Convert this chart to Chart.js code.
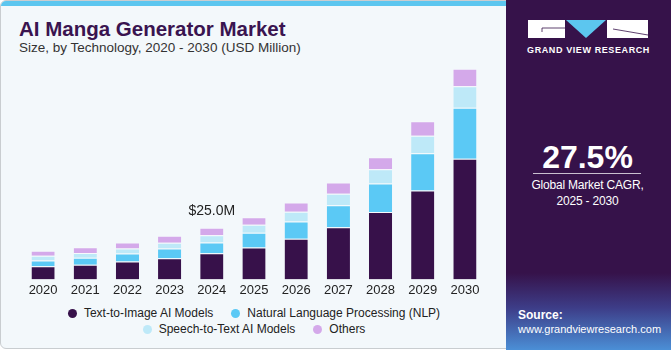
<!DOCTYPE html>
<html>
<head>
<meta charset="utf-8">
<script src="https://cdn.jsdelivr.net/npm/chart.js@4"></script>
<style>
    body { margin: 0; width: 671px; height: 350px; overflow: hidden; background: #ffffff; font-family: "Liberation Sans", Arial, sans-serif; }
    #card { position: absolute; left: 0; top: 0; width: 669px; height: 347px; background: #f3f8fb; border: 1px solid #c9cdd0; border-radius: 6px; overflow: hidden; }
    #topStrip { position: absolute; left: 0; top: 0; width: 506px; height: 5px; background: #5cc6ef; }
    #title { position: absolute; left: 18px; top: 16px; font-size: 20.5px; font-weight: bold; color: #3a1450; }
    #subtitle { position: absolute; left: 18px; top: 39px; font-size: 13.5px; color: #333333; }
    #chartBox { position: absolute; left: 0; top: 56px; width: 505px; height: 244px; }
    .legendRow { position: absolute; left: 0; width: 506px; text-align: center; font-size: 12px; color: #222; white-space: nowrap; }
    .item { display: inline-block; margin: 0 9px; }
    .dot { display: inline-block; width: 9px; height: 9px; border-radius: 50%; margin-right: 7px; vertical-align: -1px; }
    #panel { position: absolute; left: 506px; top: 0; width: 165px; height: 350px;
        background: linear-gradient(to bottom, #36124a 0%, #36124a 78%, #3d3d88 88%, #4b8fd6 100%); }
    #logo { position: absolute; left: 22px; top: 20px; width: 120px; height: 18px; }
    #logoText { position: absolute; left: 0; top: 45px; width: 165px; text-align: center; font-size: 9px; font-weight: bold; color: #ffffff; letter-spacing: 0.6px; }
    #cagr { position: absolute; left: 0; top: 139px; width: 163px; text-align: center; font-size: 32px; font-weight: bold; color: #ffffff; }
    #rule { position: absolute; left: 27px; top: 173px; width: 108px; height: 1px; background: #c9bfd0; }
    #cagrText { position: absolute; left: 0; top: 177px; width: 163px; text-align: center; font-size: 12px; letter-spacing: -0.2px; line-height: 16px; color: #ffffff; }
    #source { position: absolute; left: 12px; top: 308px; font-size: 11px; line-height: 14px; color: #ffffff; }
    #source b { font-size: 12px; }
</style>
</head>
<body>
<div id="card">
    <div id="topStrip"></div>
    <div id="title">AI Manga Generator Market</div>
    <div id="subtitle">Size, by Technology, 2020 - 2030 (USD Million)</div>
    <div id="chartBox"><canvas id="marketChart"></canvas></div>
    <div class="legendRow" id="legendRow1" style="top: 305px;"></div>
    <div class="legendRow" id="legendRow2" style="top: 321px;"></div>
</div>
<div id="panel">
    <svg id="logo" viewBox="0 0 120 18">
        <rect x="0" y="0" width="37" height="18" fill="#ffffff"></rect>
        <polyline points="14,12 14,8 37,8" fill="none" stroke="#36124a" stroke-width="0.8"></polyline>
        <polygon points="38,0 78,0 58,18" fill="#5cc6ef"></polygon>
        <rect x="79" y="0" width="41" height="18" fill="#ffffff"></rect>
        <polyline points="85,9 120,15" fill="none" stroke="#36124a" stroke-width="0.8"></polyline>
    </svg>
    <div id="logoText">GRAND VIEW RESEARCH</div>
    <div id="cagr">27.5%</div>
    <div id="rule"></div>
    <div id="cagrText">Global Market CAGR,<br>2025 - 2030</div>
    <div id="source"><b>Source:</b><br>www.grandviewresearch.com</div>
</div>

<script>
const years = ['2020', '2021', '2022', '2023', '2024', '2025', '2026', '2027', '2028', '2029', '2030'];

const textToImage = [6.3, 7.1, 8.6, 10.2, 12.6, 15.4, 19.6, 25.2, 32.6, 43.0, 58.3];
const nlp = [2.8, 3.4, 3.9, 4.7, 5.2, 7.1, 8.4, 10.7, 13.8, 18.0, 24.7];
const speechToText = [2.3, 2.3, 2.4, 2.8, 3.6, 3.9, 4.7, 5.5, 6.8, 8.4, 10.4];
const others = [2.4, 2.8, 2.9, 3.4, 3.6, 3.6, 4.5, 5.4, 5.8, 7.1, 8.4];

const seriesNames = ['Text-to-Image AI Models', 'Natural Language Processing (NLP)', 'Speech-to-Text AI Models', 'Others'];
const seriesColors = ['#37114a', '#5bc9f5', '#bee9f8', '#d4a9ea'];

const labelYear = '2024';
const labelText = '$25.0M';

// Legend rows (drawn as HTML to keep the two-line layout)
const legendRows = [[0, 1], [2, 3]];

legendRows.forEach((row, r) => {

    const box = document.getElementById('legendRow' + (r + 1));

    row.forEach(i => {
        const item = document.createElement('span');
        item.className = 'item';
        item.innerHTML = '<span class="dot" style="background:' + seriesColors[i] + '"></span>' + seriesNames[i];
        box.appendChild(item);
    });

});

// Value label above the 2024 bar
const totalLabel = {
    id: 'totalLabel',
    afterDatasetsDraw(chart) {
        const idx = years.indexOf(labelYear);
        const last = chart.data.datasets.length - 1;
        const bar = chart.getDatasetMeta(last).data[idx];
        if (!bar) return;
        const ctx = chart.ctx;
        ctx.save();
        ctx.font = '14px "Liberation Sans", Arial, sans-serif';
        ctx.fillStyle = '#222222';
        ctx.textAlign = 'center';
        ctx.textBaseline = 'middle';
        ctx.fillText(labelText, bar.x, bar.y - 17);
        ctx.restore();
    }
};

const seriesValues = [textToImage, nlp, speechToText, others];

new Chart(document.getElementById('marketChart'), {

    type: 'bar',

    data: {
        labels: years,
        datasets: seriesValues.map((values, i) => ({
            label: seriesNames[i],
            data: values,
            backgroundColor: seriesColors[i],
            borderColor: 'rgba(255,255,255,0.35)',
            borderWidth: { top: 1 },
            borderSkipped: false,
            barPercentage: 0.55,
            categoryPercentage: 1.0
        }))
    },

    options: {
        responsive: true,
        maintainAspectRatio: false,
        animation: false,
        layout: {
            padding: { left: 21, right: 20, top: 0, bottom: 0 }
        },
        plugins: {
            legend: { display: false },
            tooltip: { enabled: false }
        },
        scales: {
            x: {
                stacked: true,
                grid: { display: false, drawTicks: false },
                border: { display: false },
                ticks: {
                    padding: 3,
                    color: '#222222',
                    font: { family: '"Liberation Sans", Arial, sans-serif', size: 13 }
                }
            },
            y: {
                stacked: true,
                display: false,
                min: 0,
                max: 107.5
            }
        }
    },

    plugins: [totalLabel]

});
</script>
</body>
</html>
